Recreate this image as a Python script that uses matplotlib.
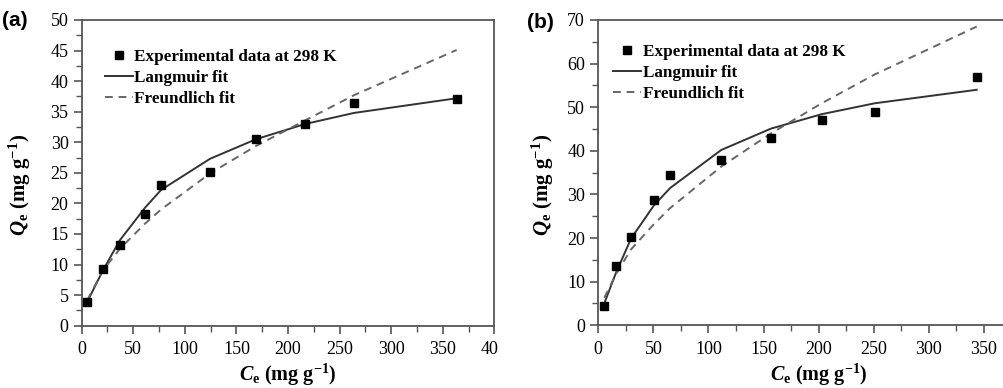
import matplotlib
matplotlib.use("Agg")
import matplotlib.pyplot as plt
from matplotlib.ticker import MultipleLocator
from matplotlib.transforms import Bbox

plt.rcParams['font.family'] = 'Liberation Serif'
plt.rcParams['mathtext.fontset'] = 'custom'
plt.rcParams['mathtext.rm'] = 'Liberation Serif:bold'
plt.rcParams['mathtext.bf'] = 'Liberation Serif:bold'
plt.rcParams['mathtext.it'] = 'Liberation Serif:bold:italic'

# (a) isotherm data and fitted curves
ce_a = [5.4, 20.4, 37.1, 61.4, 76.9, 124.4, 169.0, 216.8, 264.0, 363.5]
qe_a = [3.8, 9.2, 13.2, 18.2, 23.0, 25.1, 30.5, 33.0, 36.4, 37.0]
lang_a = [3.9, 9.0, 14.0, 19.3, 22.2, 27.3, 30.5, 33.0, 34.8, 37.2]
freu_a = [4.2, 9.0, 12.6, 16.7, 19.0, 24.9, 29.4, 33.6, 37.7, 45.1]

# (b) isotherm data and fitted curves
ce_b = [5.4, 16.0, 29.7, 50.5, 65.3, 111.6, 156.7, 202.7, 250.7, 343.4]
qe_b = [4.4, 13.7, 20.2, 28.7, 34.5, 38.0, 43.0, 47.0, 49.0, 57.0]
lang_b = [5.0, 12.0, 19.9, 27.5, 31.5, 40.2, 45.1, 48.4, 50.9, 54.0]
freu_b = [6.3, 11.7, 17.4, 23.2, 26.9, 36.4, 44.0, 50.9, 57.5, 68.5]

W, H = 1004, 388
fig = plt.figure(figsize=(W / 100, H / 100), dpi=100)

spine_col = '#555555'
ylab = r'$\mathit{Q}_{\mathrm{e}}$ (mg g$^{\mathrm{-1}}$)'
xlab = r'$\mathit{C}_{\mathrm{e}}$ (mg g$^{\mathrm{-1}}$)'


def draw_panel(ax, ce, qe, lang, freu, ymax, ymaj, xmax, leg_dx, leg_dy):
    ax.plot(ce, qe, 's', color='black', markersize=6, label='Experimental data at 298 K', zorder=3)
    ax.plot(ce, lang, '-', color='#333333', lw=1.4, label='Langmuir fit')
    ax.plot(ce, freu, '--', color='#666666', lw=1.4, dashes=(4, 3), label='Freundlich fit')
    ax.set_xlim(0, xmax)
    ax.set_ylim(0, ymax)
    ax.xaxis.set_major_locator(MultipleLocator(50))
    ax.xaxis.set_minor_locator(MultipleLocator(25))
    ax.yaxis.set_major_locator(MultipleLocator(ymaj))
    ax.yaxis.set_minor_locator(MultipleLocator(ymaj / 2))
    ax.tick_params(which='major', length=6, width=1.2, color=spine_col, labelsize=13, direction='out')
    ax.tick_params(which='minor', length=4, width=1.0, color=spine_col, direction='out')
    ax.tick_params(axis='x', pad=5)
    for s in ax.spines.values():
        s.set_color(spine_col)
        s.set_linewidth(1.3)
    ax.set_xlabel(xlab, fontsize=14.5, fontweight='bold', labelpad=3)
    ax.set_ylabel(ylab, fontsize=15, fontweight='bold')
    # legend offset given in pixels from the top-left corner of the axes
    bb = ax.get_position()
    ax_w, ax_h = bb.width * W, bb.height * H
    ax.legend(loc='upper left', bbox_to_anchor=(leg_dx / ax_w, 1 - leg_dy / ax_h),
              borderaxespad=0, frameon=False,
              prop={'weight': 'bold', 'size': 12.3}, handlelength=1.65,
              handletextpad=0.1, labelspacing=0.3)


ax1 = fig.add_axes([81.7 / W, 1 - 325.7 / H, 412.6 / W, 305.7 / H])
draw_panel(ax1, ce_a, qe_a, lang_a, freu_a, 50, 5, 400, 16, 22)
ax1.yaxis.set_label_coords(-0.118, 0.46)
# last x label of panel (a) is cut at the panel gap
clip = Bbox.from_extents(0, 0, 497.5, H)
for t in ax1.get_xticklabels():
    t.set_clip_box(clip)
    t.set_clip_on(True)

ax2 = fig.add_axes([598.3 / W, 1 - 325.3 / H, 440.8 / W, 305.3 / H])
draw_panel(ax2, ce_b, qe_b, lang_b, freu_b, 70, 10, 400, 8, 17)
ax2.set_xticks(range(0, 351, 50))
ax2.yaxis.set_label_coords(-0.096, 0.46)

fig.text(2 / W, 1 - 21 / H, '(a)', fontsize=15, fontweight='bold', family='Liberation Sans',
         va='center', ha='left')
fig.text(527 / W, 1 - 22 / H, '(b)', fontsize=15, fontweight='bold', family='Liberation Sans',
         va='center', ha='left')

fig.savefig('out.png', dpi=100)
